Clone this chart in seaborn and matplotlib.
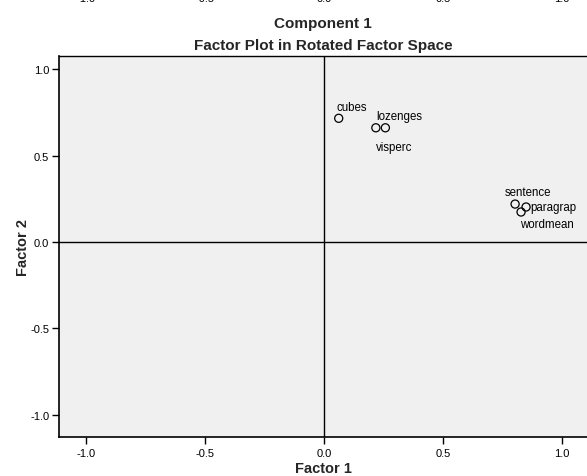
# Factor plot in rotated factor space
import matplotlib
matplotlib.use("Agg")
import matplotlib.pyplot as plt
import seaborn as sns
import pandas as pd

variables = ["cubes", "lozenges", "visperc", "sentence", "paragrap", "wordmean"]
factor1 = [0.062, 0.218, 0.258, 0.803, 0.849, 0.828]
factor2 = [0.717, 0.662, 0.662, 0.220, 0.203, 0.174]
tick_values = [-1.0, -0.5, 0.0, 0.5, 1.0]
tick_labels = ["-1.0", "-0.5", "0.0", "0.5", "1.0"]

# label offsets in pixels (dx, dy) relative to each point
label_offsets = {
    "cubes": (-2, 11),
    "lozenges": (0, 12),
    "visperc": (-9, -19),
    "sentence": (-10, 12),
    "paragrap": (4, 0),
    "wordmean": (-1, -12),
}

df = pd.DataFrame({"Variable": variables, "Factor 1": factor1, "Factor 2": factor2})

sns.set_theme(style="ticks")
plt.rcParams["font.family"] = ["Liberation Sans", "DejaVu Sans"]

W, H = 587, 477
fig = plt.figure(figsize=(W / 100, H / 100), dpi=100)
fig.patch.set_facecolor("white")

# axes box in pixels
left, top, bottom = 59, 57, 437.7
ax = fig.add_axes([left / W, (H - bottom) / H, (W - left) / W, (bottom - top) / H])
ax.set_facecolor("#f0f0f0")

ax.axhline(0, color="black", lw=1, zorder=1)
ax.axvline(0, color="black", lw=1, zorder=1)

sns.scatterplot(data=df, x="Factor 1", y="Factor 2", ax=ax, marker="o", s=34,
                facecolor="none", edgecolor="black", linewidth=0.9, zorder=3)

for _, row in df.iterrows():
    dx, dy = label_offsets[row["Variable"]]
    ax.annotate(row["Variable"], (row["Factor 1"], row["Factor 2"]),
                xytext=(dx, dy), textcoords="offset pixels",
                ha="left", va="center", fontsize=8.3, color="black")

ax.set_xlim(-1.113, 1.105)
ax.set_ylim(-1.128, 1.078)
ax.set_xticks(tick_values)
ax.set_xticklabels(tick_labels)
ax.set_yticks(tick_values)
ax.set_yticklabels(tick_labels)
ax.tick_params(axis="both", direction="out", length=5, width=1, color="black",
               labelsize=8, labelcolor="black", pad=2)
ax.tick_params(axis="x", pad=3)

for side in ["left", "bottom", "top"]:
    ax.spines[side].set_color("black")
    ax.spines[side].set_linewidth(1.2)
ax.spines["right"].set_visible(False)
ax.spines["top"].set_linewidth(1.0)

ax.set_xlabel("Factor 1", fontsize=10.5, fontweight="bold", labelpad=2)
ax.set_ylabel("Factor 2", fontsize=10.5, fontweight="bold", labelpad=0)
ax.set_title("Component 1\nFactor Plot in Rotated Factor Space", fontsize=11,
             fontweight="bold", linespacing=1.75, pad=5)

# cut-off tick labels of the chart above
for v, lab in zip(tick_values, tick_labels):
    xpix = left + (v + 1.113) / (1.105 + 1.113) * (W - left)
    fig.text(xpix / W, 1 - 2.5 / H, lab, ha="center", va="baseline", fontsize=8, color="black")

fig.savefig("out.png", dpi=100)
